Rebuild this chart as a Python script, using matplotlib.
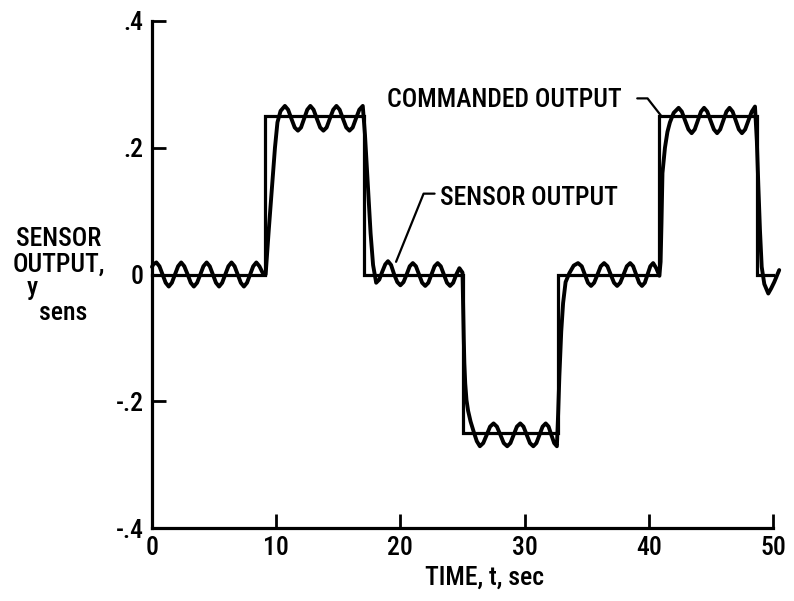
import matplotlib
matplotlib.use("Agg")
import matplotlib.pyplot as plt

plt.rcParams['font.family'] = ['Roboto Condensed', 'DejaVu Sans']
plt.rcParams['font.weight'] = 'medium'

# ---- data ----
# commanded output (step levels, held until next change time)
cmd_t = [0.0, 9.1, 17.05, 25.0, 32.65, 40.85, 48.7, 50.0]
cmd_y = [0.0, 0.25, 0.0, -0.25, 0.0, 0.25, 0.0, 0.0]

# sensor output samples (time, value)
sens_t = [
    0.0, 0.1, 0.35, 0.6, 0.85, 1.1, 1.35, 1.6, 1.85, 2.1, 2.35, 2.6, 2.87,
    3.12, 3.37, 3.63, 3.89, 4.14, 4.4, 4.65, 4.9, 5.15, 5.4, 5.65, 5.9,
    6.15, 6.4, 6.65, 6.9, 7.15, 7.4, 7.65, 7.9, 8.15, 8.4, 8.65, 8.9, 9.15,
    9.4, 9.64, 9.9, 10.1, 10.35,
    10.7, 10.96, 11.22, 11.49, 11.75, 12.0, 12.25, 12.5, 12.75, 13.01, 13.27,
    13.54, 13.8, 14.06, 14.32, 14.59, 14.85, 15.11, 15.37, 15.64, 15.9,
    16.16, 16.42, 16.69, 16.97,
    17.15, 17.4, 17.6, 17.8, 18.05,
    18.3, 18.55, 18.78, 19.0, 19.25, 19.5, 19.75, 20.0, 20.25, 20.5, 20.75,
    21.0, 21.25, 21.5, 21.75, 22.0, 22.25, 22.5, 22.75, 23.0, 23.25, 23.5,
    23.75, 24.0, 24.25, 24.5, 24.75, 25.0,
    25.05, 25.1, 25.15, 25.22, 25.32, 25.45, 25.65, 25.9, 26.15,
    26.4, 26.67, 26.95, 27.22, 27.5, 27.77, 28.05, 28.32, 28.6, 28.86, 29.12,
    29.38, 29.65, 29.91, 30.17, 30.43, 30.7, 30.95, 31.2, 31.45, 31.7, 31.93,
    32.15, 32.38, 32.6,
    32.7, 32.8, 32.95, 33.1, 33.3,
    33.6, 33.95, 34.3, 34.6, 34.85, 35.1, 35.35, 35.6, 35.87, 36.13, 36.4,
    36.67, 36.93, 37.2, 37.45, 37.7, 37.97, 38.23, 38.5, 38.74, 38.98, 39.22,
    39.45, 39.68, 39.9, 40.12, 40.35, 40.6, 40.85,
    40.95, 41.02, 41.1, 41.3, 41.5, 41.7, 42.0,
    42.4, 42.66, 42.92, 43.19, 43.45, 43.7, 43.95, 44.2, 44.45, 44.71, 44.97,
    45.24, 45.5, 45.75, 46.0, 46.25, 46.5, 46.75, 47.0, 47.25, 47.5, 47.76,
    48.02, 48.29, 48.55,
    48.7, 48.82, 48.95, 49.09, 49.3, 49.62, 49.85, 50.1, 50.5,
]
sens_y = [
    0.012, 0.016, 0.019, 0.013, 0.0, -0.013, -0.019, -0.013, 0.0, 0.013, 0.019,
    0.013, 0.0, -0.013, -0.019, -0.013, 0.0, 0.013, 0.019, 0.013, 0.0, -0.013,
    -0.019, -0.013, 0.0, 0.013, 0.019, 0.013, 0.0, -0.013, -0.019, -0.013,
    0.0, 0.013, 0.019, 0.013, 0.003, 0.0,
    0.07, 0.133, 0.2, 0.24, 0.258,
    0.266, 0.260, 0.246, 0.232, 0.227, 0.232, 0.246, 0.260, 0.266, 0.260,
    0.246, 0.232, 0.227, 0.232, 0.246, 0.260, 0.266, 0.260, 0.246, 0.232,
    0.227, 0.232, 0.246, 0.260, 0.266,
    0.22, 0.133, 0.065, 0.015, -0.013,
    -0.008, 0.005, 0.016, 0.021, 0.015, 0.0, -0.012, -0.017, -0.012, 0.0,
    0.013, 0.018, 0.013, 0.0, -0.013, -0.018, -0.013, 0.0, 0.013, 0.018,
    0.013, 0.0, -0.013, -0.018, -0.013, 0.0, 0.010, 0.003,
    -0.05, -0.1, -0.14, -0.172, -0.198, -0.215, -0.232, -0.248, -0.263,
    -0.271, -0.266, -0.253, -0.240, -0.235, -0.240, -0.253, -0.266, -0.271,
    -0.266, -0.253, -0.240, -0.235, -0.240, -0.253, -0.266, -0.271, -0.266,
    -0.253, -0.240, -0.235, -0.240, -0.253, -0.266, -0.271,
    -0.22, -0.16, -0.09, -0.045, -0.012,
    0.002, 0.014, 0.018, 0.013, 0.0, -0.013, -0.018, -0.013, 0.0, 0.013,
    0.018, 0.013, 0.0, -0.013, -0.018, -0.013, 0.0, 0.013, 0.018, 0.013,
    0.0, -0.013, -0.018, -0.013, 0.0, 0.013, 0.018, 0.010, -0.002,
    0.02, 0.08, 0.16, 0.2, 0.225, 0.24, 0.255,
    0.263, 0.257, 0.243, 0.229, 0.223, 0.229, 0.243, 0.257, 0.263, 0.257,
    0.243, 0.229, 0.223, 0.229, 0.243, 0.257, 0.263, 0.257, 0.243, 0.229,
    0.223, 0.229, 0.243, 0.257, 0.265,
    0.21, 0.14, 0.07, 0.012, -0.015, -0.030, -0.022, -0.012, 0.007,
]

xticks = [0, 10, 20, 30, 40, 50]
xtick_labels = ["0", "10", "20", "30", "40", "50"]
yticks = [0.4, 0.2, 0.0, -0.2, -0.4]
ytick_labels = [".4", ".2", "0", "-.2", "-.4"]

FS = 18.5

fig = plt.figure(figsize=(7.94, 6.01), dpi=100)
ax = fig.add_axes([152 / 794, 73 / 601, 621 / 794, 507 / 601])

ax.plot(cmd_t, cmd_y, drawstyle='steps-post', color='black', lw=2.3,
        clip_on=False, solid_joinstyle='miter')
ax.plot(sens_t, sens_y, color='black', lw=2.8, clip_on=False,
        solid_joinstyle='round', solid_capstyle='round')

ax.set_xlim(0, 50)
ax.set_ylim(-0.4, 0.4)
for s in ('top', 'right'):
    ax.spines[s].set_visible(False)
for s in ('left', 'bottom'):
    ax.spines[s].set_linewidth(2.3)
ax.set_xticks(xticks)
ax.set_xticklabels(xtick_labels)
ax.set_yticks(yticks)
ax.set_yticklabels(ytick_labels)
ax.tick_params(direction='in', length=10, width=2.0, labelsize=FS)
ax.tick_params(axis='y', pad=6)
ax.tick_params(axis='x', pad=6)

# axis labels
ax.text(0.536, -0.099, "TIME, t, sec", transform=ax.transAxes,
        ha='center', va='center', fontsize=FS)
ax.text(-0.150, 0.545, "SENSOR\nOUTPUT,", transform=ax.transAxes,
        ha='center', va='center', fontsize=FS, linespacing=1.1)
ax.text(-0.1836, 0.4596, "y", transform=ax.transAxes,
        ha='right', va='baseline', fontsize=FS)
ax.text(-0.182, 0.4103, "sens", transform=ax.transAxes,
        ha='left', va='baseline', fontsize=FS)

# annotations
ax.annotate("SENSOR OUTPUT", xy=(19.65, 0.02), xytext=(23.2, 0.12),
            ha='left', va='center', fontsize=FS,
            arrowprops=dict(arrowstyle='-', lw=1.6, color='black',
                            shrinkA=2, shrinkB=0, relpos=(0, 0.7),
                            connectionstyle='angle,angleA=0,angleB=68,rad=0'))
ax.annotate("COMMANDED OUTPUT", xy=(41.05, 0.249), xytext=(37.84, 0.276),
            ha='right', va='center', fontsize=FS,
            arrowprops=dict(arrowstyle='-', lw=1.6, color='black',
                            shrinkA=9, shrinkB=0, relpos=(1, 0.55),
                            connectionstyle='angle,angleA=0,angleB=128,rad=0'))

fig.savefig("out.png", dpi=100)
